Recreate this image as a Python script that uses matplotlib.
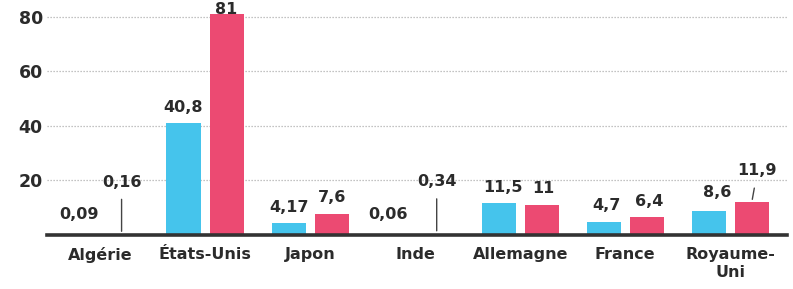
import numpy as np
import matplotlib
matplotlib.use("Agg")
import matplotlib.pyplot as plt

pays = ["Algérie", "États-Unis", "Japon", "Inde", "Allemagne", "France", "Royaume-\nUni"]
serie_bleue = [0.09, 40.8, 4.17, 0.06, 11.5, 4.7, 8.6]
serie_rouge = [0.16, 81, 7.6, 0.34, 11, 6.4, 11.9]
yticks = [20, 40, 60, 80]

bleu = "#45c4ec"
rouge = "#ec4a72"
encre = "#2b2b2b"

plt.rcParams["font.family"] = ["DejaVu Sans"]
plt.rcParams["font.weight"] = "bold"

fig = plt.figure(figsize=(7.93, 2.89), dpi=100)
ax = fig.add_axes([47 / 793, 54.5 / 289, 740 / 793, 234.5 / 289])

x = np.arange(len(pays))
w = 0.325
d = 0.205
ax.bar(x - d, serie_bleue, w, color=bleu, zorder=3)
ax.bar(x + d, serie_rouge, w, color=rouge, zorder=3)

ax.set_xlim(-0.505, 6.54)
ax.set_ylim(0, 86.06)

# grille pointillee
for v in yticks:
    ax.axhline(v, color="#b0b0b0", lw=0.9, ls=(0, (1, 1.4)), zorder=1)
ax.axhline(0, color="#333333", lw=2.6, zorder=4, clip_on=False)

for s in ax.spines.values():
    s.set_visible(False)
ax.set_yticks(yticks)
ax.set_yticklabels([str(v) for v in yticks], fontsize=12.5, color=encre, fontweight="bold")
ax.tick_params(axis="y", length=0, pad=3)
ax.set_xticks(x)
ax.set_xticklabels(pays, fontsize=11.5, color=encre, fontweight="bold", linespacing=1.25)
ax.tick_params(axis="x", length=0, pad=9)


def lab(v):
    return ("%g" % v).replace(".", ",")


# decalages des etiquettes (points) ; les petites valeurs ont un trait de rappel
dec_bleu = [(0, 9), (0, 6), (0, 6), (-4, 9), (3, 6), (2, 6), (6, 8)]
dec_rouge = [(0, 32), (0, -2), (0, 6), (0, 32), (1, 6), (2, 6), (4, 17)]
trait_rouge = [True, False, False, True, False, False, True]

for i in range(len(pays)):
    ax.annotate(lab(serie_bleue[i]), (x[i] - d, serie_bleue[i]), xytext=dec_bleu[i],
                textcoords="offset points", ha="center", va="bottom",
                fontsize=11.5, color=encre, fontweight="bold", annotation_clip=False, zorder=5)
    props = None
    if trait_rouge[i]:
        props = dict(arrowstyle="-", color="#444444", lw=1, shrinkA=5, shrinkB=2)
    ax.annotate(lab(serie_rouge[i]), (x[i] + d, serie_rouge[i]), xytext=dec_rouge[i],
                textcoords="offset points", ha="center", va="bottom",
                fontsize=11.5, color=encre, fontweight="bold", annotation_clip=False,
                arrowprops=props, zorder=5)

fig.savefig("out.png", dpi=100, facecolor="white")
